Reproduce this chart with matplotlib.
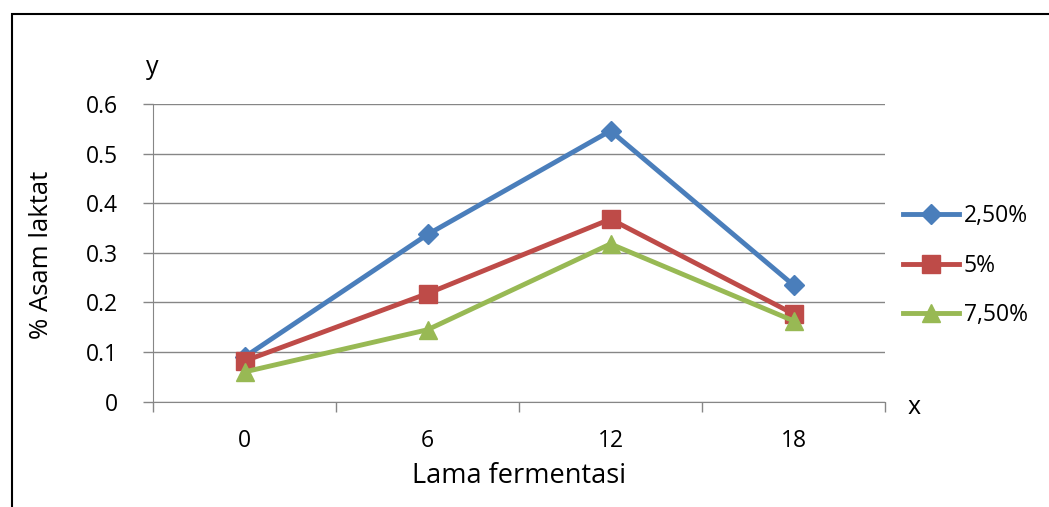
import matplotlib
matplotlib.use("Agg")
import matplotlib.pyplot as plt
from matplotlib.patches import Rectangle
import numpy as np

plt.rcParams['font.family'] = ['Open Sans', 'DejaVu Sans']

categories = ["0", "6", "12", "18"]
series_names = ["2,50%", "5%", "7,50%"]
val_25 = [0.09, 0.337, 0.546, 0.235]
val_5 = [0.082, 0.218, 0.368, 0.177]
val_75 = [0.06, 0.145, 0.318, 0.163]

colors = ["#4A7EBB", "#BE4B48", "#98B954"]
markers = ["D", "s", "^"]
msizes = [10, 13, 13]
fs = 16.5
fs_title = 19.5

fig = plt.figure(figsize=(10.49, 5.07), dpi=100)
ax = fig.add_axes([153/1049, 1-401.7/507, (885-153)/1049, (401.7-104)/507])

x = np.arange(len(categories))
for vals, c, m, ms, name in zip([val_25, val_5, val_75], colors, markers, msizes, series_names):
    ax.plot(x, vals, color=c, lw=3.5, marker=m, ms=ms, label=name, clip_on=False, zorder=3)

ax.set_xlim(-0.5, len(categories) - 0.5)
ax.set_ylim(0, 0.6)
ax.set_yticks(np.arange(0, 0.61, 0.1))
ax.set_yticklabels(["0", "0.1", "0.2", "0.3", "0.4", "0.5", "0.6"])
ax.set_xticks(x)
ax.set_xticklabels(categories)
ax.set_xticks(np.arange(-0.5, len(categories), 1.0), minor=True)
ax.tick_params(axis='x', which='major', length=0, pad=20, labelsize=fs)
ax.tick_params(axis='x', which='minor', length=7, color='#868686', width=1, direction='out')
ax.tick_params(axis='y', length=7, color='#868686', width=1, direction='out', pad=18, labelsize=fs)
ax.grid(axis='y', color='#868686', lw=1)
ax.set_axisbelow(True)
for s in ['top', 'right']:
    ax.spines[s].set_visible(False)
ax.spines['left'].set_color('#868686')
ax.spines['bottom'].set_color('#868686')

ax.set_xlabel("Lama fermentasi", fontsize=fs_title)
ax.xaxis.set_label_coords(0.5, (401.7-476)/297.7)
ax.xaxis.label.set_va('center')
ax.set_ylabel("% Asam laktat", fontsize=fs_title - 1)
ax.yaxis.set_label_coords(-(153-42)/732, (401.7-255)/297.7)
ax.yaxis.label.set_va('center')

fig.text(152/1049, 1-68/507, "y", fontsize=fs_title - 1.5, ha='center', va='center')
fig.text(914/1049, 1-407/507, "x", fontsize=fs_title - 1.5, ha='center', va='center')

leg = ax.legend(loc='upper left', bbox_to_anchor=(1 + (903-885)/732, (401.7-204)/297.7),
                frameon=False, fontsize=fs, handlelength=2.45, handletextpad=0.2,
                labelspacing=1.12, borderaxespad=0, borderpad=0)

fig.add_artist(Rectangle((12/1049, -0.1), 1.2, 1-14/507 + 0.1, transform=fig.transFigure,
                         fill=False, edgecolor='black', lw=1.5))

fig.savefig("out.png", dpi=100)
